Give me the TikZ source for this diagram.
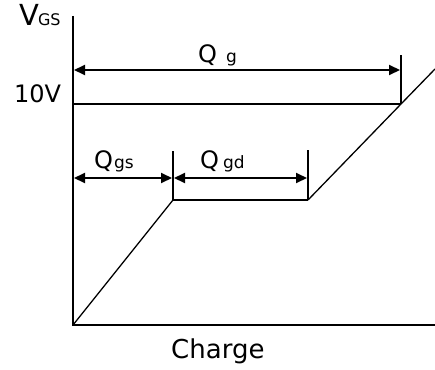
\documentclass[tikz,border=0pt]{standalone}
\usepackage{fontspec}
\setmainfont{DejaVu Sans}
\usetikzlibrary{arrows.meta}

\begin{document}
\begin{tikzpicture}[x=1pt, y=-1pt,
    axis/.style={draw, line width=2.4pt},
    curve/.style={draw, line width=1.3pt},
    guide/.style={draw, line width=2pt},
    dim/.style={draw, line width=2pt, {Triangle[length=11pt,width=10pt]}-{Triangle[length=11pt,width=10pt]}},
    lbl/.style={inner sep=0pt, anchor=base west}
]
    \useasboundingbox (0,0) rectangle (435,369);
    % axes
    \coordinate (origin) at (73,325);
    \coordinate (ytop) at (73,16);
    \coordinate (xend) at (435,325);
    \path[axis] (ytop) -- (origin) -- (xend);
    % gate charge curve
    \coordinate (knee) at (173,200);
    \coordinate (plateau) at (308,200);
    \coordinate (full) at (401,104);
    \coordinate (beyond) at (435,69);
    \path[curve] (origin) -- (knee);
    \path[guide] (knee) -- (plateau);
    \path[curve] (plateau) -- (full) -- (beyond);
    % 10V level and Qg
    \coordinate (ten) at (73,104);
    \path[guide] (ten) -- (full);
    \coordinate (gtop) at (401,55);
    \path[guide] (gtop) -- (full);
    \coordinate (gl) at (74,70);
    \coordinate (gr) at (400,70);
    \path[dim] (gl) -- (gr);
    % Qgs and Qgd
    \coordinate (kneetop) at (173,151);
    \coordinate (plattop) at (308,150);
    \path[guide] (kneetop) -- (knee);
    \path[guide] (plattop) -- (plateau);
    \coordinate (sl) at (74,178);
    \coordinate (sr) at (172,178);
    \coordinate (dl) at (174,178);
    \coordinate (dr) at (307,178);
    \path[dim] (sl) -- (sr);
    \path[dim] (dl) -- (dr);
    % labels
    \node[lbl] (vgs) at (19,26) {\fontsize{29}{31}\selectfont V\hspace{-1pt}{\fontsize{16}{17}\selectfont GS}};
    \node[lbl, font=\fontsize{24}{26}\selectfont] (tenv) at (14,102) {10V};
    \node[lbl] (qg) at (198,62) {{\fontsize{24}{26}\selectfont Q}\hspace{9pt}{\fontsize{17}{18}\selectfont g}};
    \node[lbl] (qgs) at (94,168) {{\fontsize{24}{26}\selectfont Q}\hspace{1pt}{\fontsize{17}{18}\selectfont gs}};
    \node[lbl] (qgd) at (200,168) {{\fontsize{24}{26}\selectfont Q}\hspace{4pt}{\fontsize{17}{18}\selectfont gd}};
    \node[lbl, font=\fontsize{26}{28}\selectfont] (charge) at (171,358) {Charge};
\end{tikzpicture}
\end{document}
